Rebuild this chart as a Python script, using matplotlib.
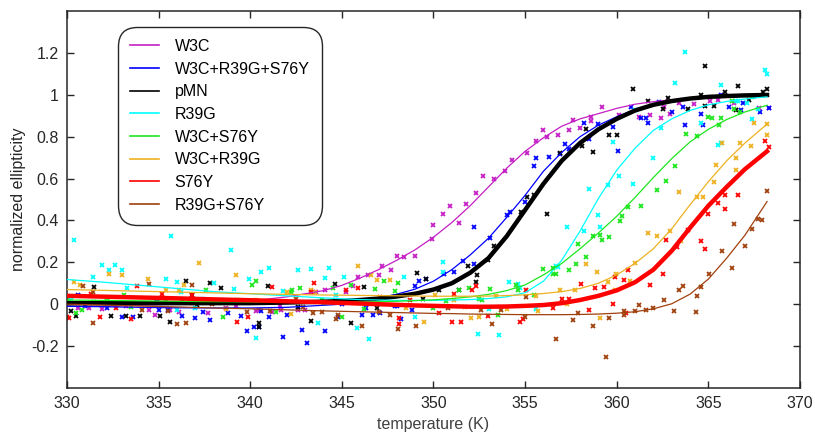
import numpy as np
import matplotlib
matplotlib.use("Agg")
import matplotlib.pyplot as plt

plt.rcParams['font.family'] = ['Liberation Sans', 'DejaVu Sans']

labels = ['W3C', 'W3C+R39G+S76Y', 'pMN', 'R39G', 'W3C+S76Y', 'W3C+R39G', 'S76Y', 'R39G+S76Y']
colors = ['#c41fc4', '#0000ff', '#000000', '#00ffff', '#1ee61e', '#edb120', '#ff0000', '#a0400d']
widths = [0.9, 0.9, 3.2, 0.9, 0.9, 0.9, 3.2, 0.9]

# fitted curves
fit_t = [330, 332, 334, 336, 338, 340, 342, 344, 345, 346, 347, 348, 349, 350, 351, 352,
         353, 354, 355, 356, 357, 358, 359, 360, 361, 362, 363, 364, 365, 366, 367, 368.2]
fit_w3c = [-0.01, -0.01, -0.005, 0.0, 0.005, 0.015, 0.035, 0.065, 0.09, 0.125, 0.165, 0.21, 0.26, 0.32, 0.39, 0.47,
           0.56, 0.65, 0.73, 0.795, 0.85, 0.885, 0.91, 0.935, 0.955, 0.967, 0.976, 0.983, 0.988, 0.992, 0.995, 0.998]
fit_w3c_r39g_s76y = [-0.01, -0.012, -0.015, -0.017, -0.018, -0.018, -0.015, -0.005, 0.0, 0.012, 0.028, 0.048, 0.072, 0.11, 0.165, 0.235,
                     0.315, 0.415, 0.52, 0.635, 0.725, 0.80, 0.855, 0.895, 0.93, 0.952, 0.968, 0.98, 0.987, 0.992, 0.996, 0.999]
fit_pmn = [0.005, 0.005, 0.005, 0.005, 0.005, 0.005, 0.008, 0.012, 0.015, 0.02, 0.027, 0.037, 0.05, 0.07, 0.1, 0.15,
           0.22, 0.325, 0.45, 0.575, 0.685, 0.77, 0.835, 0.885, 0.925, 0.952, 0.97, 0.982, 0.99, 0.994, 0.997, 0.999]
fit_r39g = [0.118, 0.105, 0.09, 0.075, 0.06, 0.05, 0.04, 0.03, 0.026, 0.022, 0.02, 0.018, 0.018, 0.018, 0.02, 0.022,
            0.027, 0.035, 0.055, 0.11, 0.21, 0.35, 0.505, 0.64, 0.745, 0.83, 0.885, 0.925, 0.952, 0.968, 0.98, 0.99]
fit_w3c_s76y = [0.02, 0.018, 0.016, 0.014, 0.012, 0.011, 0.01, 0.01, 0.01, 0.011, 0.012, 0.014, 0.017, 0.021, 0.027, 0.035,
                0.047, 0.065, 0.092, 0.14, 0.195, 0.265, 0.34, 0.42, 0.51, 0.605, 0.695, 0.775, 0.835, 0.882, 0.918, 0.95]
fit_w3c_r39g = [0.07, 0.066, 0.062, 0.058, 0.054, 0.05, 0.047, 0.044, 0.043, 0.042, 0.041, 0.04, 0.039, 0.038, 0.038, 0.038,
                0.039, 0.041, 0.045, 0.051, 0.06, 0.075, 0.1, 0.14, 0.195, 0.265, 0.36, 0.475, 0.585, 0.685, 0.77, 0.86]
fit_s76y = [0.04, 0.036, 0.032, 0.028, 0.023, 0.019, 0.014, 0.009, 0.006, 0.003, 0.0, -0.003, -0.006, -0.008, -0.01, -0.012,
            -0.012, -0.011, -0.008, -0.004, 0.005, 0.02, 0.04, 0.066, 0.105, 0.165, 0.255, 0.365, 0.47, 0.56, 0.645, 0.73]
fit_r39g_s76y = [0.0, -0.004, -0.009, -0.013, -0.018, -0.022, -0.027, -0.032, -0.034, -0.036, -0.038, -0.04, -0.042, -0.044, -0.045, -0.047,
                 -0.048, -0.049, -0.05, -0.05, -0.05, -0.049, -0.047, -0.043, -0.036, -0.022, 0.002, 0.048, 0.12, 0.22, 0.33, 0.49]

# measured points (temperature, ellipticity)
pts_w3c = [(330.6, -0.02), (331.2, -0.017), (331.9, -0.022), (333.2, -0.01), (334.5, -0.03), (334.8, -0.05), (335.6, -0.03),
           (336.1, -0.038), (336.8, 0.005), (337.7, -0.04), (338.7, -0.016), (339.2, -0.01), (340.3, -0.033), (340.5, -0.03),
           (341.2, -0.036), (341.6, -0.008), (341.7, -0.03), (342.6, -0.03), (343.0, -0.03), (343.6, 0.057), (344.1, 0.067),
           (344.6, 0.02), (345.2, 0.06), (345.6, 0.086), (345.9, 0.13), (346.4, 0.14), (347.0, 0.14), (347.2, 0.18),
           (347.7, 0.165), (348.0, 0.23), (348.4, 0.225), (349.0, 0.23), (349.9, 0.31), (350.0, 0.376), (350.5, 0.43),
           (350.9, 0.47), (351.4, 0.39), (351.8, 0.48), (352.3, 0.53), (352.7, 0.61), (353.3, 0.60), (353.9, 0.635),
           (354.3, 0.69), (355.1, 0.72), (355.6, 0.78), (356.0, 0.83), (356.2, 0.80), (356.8, 0.81), (357.4, 0.83),
           (357.6, 0.88), (358.0, 0.84), (358.6, 0.895), (358.6, 0.876), (359.2, 0.94), (360.1, 0.905), (361.2, 0.895),
           (361.8, 0.905), (362.4, 0.89), (362.6, 0.94), (362.9, 0.91), (363.4, 0.963), (364.2, 0.955), (365.1, 0.97),
           (365.5, 0.976), (366.4, 0.963), (367.75, 0.936), (368.3, 0.936)]
pts_w3c_r39g_s76y = [(330.6, 0.043), (331.0, -0.01), (332.2, -0.016), (333.0, -0.063), (333.6, -0.06), (334.9, 0.024),
                     (335.0, -0.029), (335.5, -0.029), (336.3, -0.057), (337.0, -0.068), (337.4, -0.036), (337.8, -0.076),
                     (338.8, -0.044), (339.5, -0.057), (339.8, -0.13), (340.2, -0.108), (340.5, -0.108), (340.6, -0.032),
                     (341.0, -0.063), (341.8, -0.156), (342.0, -0.052), (342.8, -0.124), (343.1, -0.184), (344.1, -0.127),
                     (344.8, -0.063), (345.0, -0.001), (346.1, -0.052), (346.3, -0.016), (346.7, -0.052), (347.1, -0.04),
                     (347.9, -0.01), (348.0, -0.01), (348.2, -0.073), (348.8, -0.03), (349.0, 0.086), (349.2, 0.11),
                     (349.6, 0.12), (350.6, 0.146), (351.1, 0.154), (351.6, 0.206), (352.2, 0.19), (352.2, 0.37),
                     (353.1, 0.318), (354.0, 0.425), (354.2, 0.44), (355.0, 0.487), (355.5, 0.66), (355.6, 0.70),
                     (356.3, 0.705), (356.9, 0.717), (357.2, 0.765), (357.4, 0.74), (358.2, 0.865), (358.5, 0.79),
                     (359.0, 0.86), (359.8, 0.845), (360.05, 0.733), (360.8, 0.943), (361.3, 0.89), (361.6, 0.89),
                     (361.7, 0.863), (362.3, 0.967), (363.0, 0.92), (363.6, 0.94), (363.7, 0.857), (364.6, 0.91),
                     (364.7, 0.857), (365.7, 0.998), (366.1, 0.943), (366.9, 0.963), (366.8, 0.927), (367.5, 0.995),
                     (367.8, 0.916), (368.3, 0.936)]
pts_pmn = [(330.2, -0.032), (330.5, -0.057), (331.5, 0.08), (332.4, -0.057), (333.2, -0.057), (334.0, -0.057),
           (335.1, -0.057), (335.6, -0.084), (336.5, 0.11), (336.8, 0.043), (337.1, -0.005), (337.8, 0.103),
           (338.4, 0.075), (340.5, -0.092), (340.5, -0.11), (340.95, 0.086), (342.6, -0.013), (343.3, -0.081),
           (344.6, 0.098), (345.5, -0.092), (346.2, 0.08), (346.9, -0.018), (349.1, 0.15), (349.4, 0.027),
           (349.6, 0.12), (350.3, 0.067), (351.4, 0.067), (351.9, 0.18), (352.3, 0.106), (352.4, 0.138),
           (353.0, 0.21), (353.3, 0.276), (354.8, 0.44), (355.1, 0.51), (355.5, 0.52), (356.2, 0.43),
           (356.9, 0.72), (358.1, 0.754), (358.3, 0.836), (358.7, 0.725), (359.6, 0.81), (360.0, 0.81),
           (360.9, 1.027), (361.7, 0.971), (362.5, 0.932), (362.8, 0.984), (363.9, 0.932), (364.6, 0.998),
           (364.8, 1.135), (364.8, 0.946), (365.3, 0.948), (365.9, 1.014), (366.5, 0.929), (366.6, 1.043),
           (367.2, 0.976), (368.0, 1.011), (368.2, 1.027)]
pts_r39g = [(330.2, 0.02), (330.4, 0.308), (331.4, 0.13), (331.9, 0.186), (332.3, 0.165), (332.6, 0.186), (333.0, 0.162),
            (333.3, 0.075), (335.4, 0.119), (335.7, 0.324), (336.0, 0.106), (336.0, -0.03), (336.2, 0.059),
            (337.0, -0.02), (337.4, 0.024), (338.0, 0.099), (338.95, 0.26), (339.1, 0.071), (339.4, 0.014),
            (339.95, 0.122), (340.3, -0.163), (340.6, 0.154), (341.0, 0.175), (341.8, 0.062), (342.6, 0.162),
            (343.3, 0.17), (343.7, -0.092), (344.1, 0.127), (344.3, 0.175), (344.7, 0.043), (345.1, 0.13),
            (345.8, -0.116), (346.5, -0.168), (348.4, 0.13), (349.0, -0.06), (350.5, 0.2), (350.5, 0.154),
            (352.45, -0.14), (353.05, -0.025), (353.6, -0.148), (354.1, 0.106), (354.6, 0.095), (354.7, 0.075),
            (355.6, -0.025), (356.7, 0.18), (356.8, 0.178), (357.3, 0.368), (358.2, 0.35), (358.5, 0.55),
            (359.0, 0.427), (359.1, 0.368), (359.5, 0.57), (359.8, 0.773), (360.1, 0.614), (360.9, 0.575),
            (361.0, 0.927), (362.0, 0.70), (362.4, 0.84), (363.2, 1.056), (363.7, 1.206), (364.6, 0.865),
            (365.5, 0.762), (365.7, 0.768), (365.7, 1.048), (366.5, 0.971), (366.6, 0.968), (367.1, 0.959),
            (367.4, 0.884), (367.7, 0.932), (368.1, 1.117), (368.2, 1.10)]
pts_w3c_s76y = [(330.0, 0.027), (330.5, -0.041), (330.8, -0.03), (331.5, 0.011), (332.2, 0.014), (333.1, 0.046),
                (333.5, -0.013), (335.4, 0.019), (336.3, 0.019), (337.6, 0.067), (338.4, 0.019), (338.5, -0.06),
                (339.3, 0.019), (340.1, 0.09), (340.3, 0.11), (341.4, -0.036), (342.2, 0.059), (342.3, 0.067),
                (342.7, 0.075), (343.9, 0.02), (344.0, 0.006), (344.5, 0.075), (345.0, -0.06), (345.5, 0.09),
                (346.2, -0.025), (346.8, 0.071), (347.3, 0.11), (347.9, 0.063), (348.05, 0.101), (350.0, -0.018),
                (350.7, 0.016), (351.4, 0.067), (351.96, 0.078), (352.5, 0.027), (352.65, 0.019), (353.1, 0.071),
                (353.5, -0.052), (354.5, 0.09), (354.6, 0.067), (355.5, 0.043), (356.0, 0.17), (356.5, 0.146),
                (356.5, 0.175), (356.7, 0.143), (357.4, 0.165), (357.8, 0.194), (357.9, 0.286), (358.3, 0.225),
                (358.7, 0.325), (359.1, 0.332), (359.2, 0.308), (359.6, 0.32), (360.2, 0.395), (360.3, 0.419),
                (360.6, 0.463), (361.3, 0.467), (362.2, 0.543), (362.7, 0.587), (363.2, 0.662), (363.8, 0.813),
                (364.4, 0.805), (365.0, 0.892), (365.2, 0.889), (365.6, 0.857), (365.7, 0.887), (366.3, 0.968),
                (366.4, 0.932), (366.7, 0.92), (367.4, 0.99)]
pts_w3c_r39g = [(330.4, 0.106), (330.7, 0.09), (332.3, 0.146), (333.0, 0.14), (334.4, 0.122), (335.4, 0.07),
                (336.1, 0.067), (336.4, 0.09), (337.2, 0.197), (337.7, 0.011), (338.7, -0.025), (339.2, 0.138),
                (340.3, 0.022), (342.0, 0.059), (342.2, -0.048), (343.3, 0.067), (343.55, 0.059), (345.9, 0.18),
                (346.6, 0.138), (346.9, 0.114), (347.6, 0.114), (348.5, -0.02), (349.5, -0.084), (350.1, 0.043),
                (351.1, 0.022), (351.7, -0.013), (352.05, -0.068), (352.5, -0.063), (353.4, 0.038), (354.0, -0.025),
                (355.6, 0.038), (355.7, -0.032), (356.9, 0.067), (357.3, 0.0), (357.7, 0.07), (358.3, 0.19),
                (358.9, 0.154), (359.1, -0.068), (359.5, 0.106), (359.9, 0.07), (359.97, 0.143), (360.7, 0.111),
                (361.0, 0.197), (361.7, 0.34), (362.2, 0.324), (362.9, 0.349), (363.4, 0.535), (363.5, 0.30),
                (364.4, 0.514), (364.7, 0.511), (365.3, 0.582), (365.4, 0.667), (365.75, 0.768), (366.5, 0.70),
                (366.5, 0.641), (366.7, 0.768), (367.3, 0.757), (367.5, 0.863), (368.2, 0.86), (368.2, 0.81)]
pts_s76y = [(330.0, -0.06), (330.1, -0.068), (331.3, 0.051), (331.8, -0.063), (332.7, -0.02), (333.5, -0.073),
            (333.8, 0.086), (335.2, 0.048), (336.8, 0.043), (339.3, -0.087), (339.9, -0.063), (341.2, 0.08),
            (343.3, 0.056), (343.5, 0.10), (345.2, 0.067), (345.9, 0.075), (347.1, 0.032), (348.1, -0.068),
            (348.1, -0.095), (348.7, 0.019), (350.3, -0.041), (351.0, -0.084), (351.1, 0.051), (351.5, -0.084),
            (352.1, 0.067), (352.3, 0.086), (353.0, -0.057), (354.7, -0.084), (354.9, -0.07), (355.05, 0.07),
            (356.5, -0.02), (357.0, 0.027), (357.4, 0.027), (358.05, 0.098), (358.5, -0.029), (358.8, 0.075),
            (359.3, 0.08), (359.8, 0.003), (359.9, 0.13), (360.4, 0.114), (360.5, -0.044), (360.6, 0.165),
            (361.8, 0.09), (362.5, 0.146), (362.7, 0.305), (363.3, 0.273), (363.9, 0.352), (364.6, 0.30),
            (364.8, 0.265), (365.0, 0.432), (365.5, 0.482), (365.9, 0.456), (365.9, 0.522), (366.6, 0.522),
            (368.1, 0.78), (368.3, 0.752)]
pts_r39g_s76y = [(330.85, 0.086), (331.4, -0.089), (331.4, 0.059), (334.1, -0.029), (334.5, 0.098), (335.5, -0.033),
                 (336.0, -0.095), (336.5, -0.092), (336.8, 0.094), (337.9, 0.003), (339.8, -0.036), (341.1, -0.033),
                 (342.5, 0.027), (342.9, -0.013), (343.4, -0.044), (343.9, -0.036), (344.7, -0.073), (344.8, -0.052),
                 (346.1, -0.105), (347.05, -0.036), (347.6, -0.052), (348.05, -0.12), (349.05, -0.103), (350.8, -0.02),
                 (352.6, -0.029), (353.2, -0.095), (353.7, -0.029), (355.0, -0.06), (355.05, 0.032), (356.7, -0.167),
                 (357.6, -0.076), (357.9, -0.041), (358.7, -0.105), (359.4, -0.25), (359.6, -0.068), (360.4, -0.032),
                 (360.4, -0.052), (361.0, -0.033), (361.2, -0.005), (361.6, -0.029), (362.0, -0.016), (362.6, 0.022),
                 (363.1, -0.033), (363.4, 0.067), (363.6, 0.086), (364.3, -0.036), (364.4, 0.04), (364.6, 0.082),
                 (365.06, 0.146), (365.75, 0.254), (366.3, 0.175), (366.4, 0.381), (367.0, 0.278), (367.4, 0.36),
                 (367.7, 0.408), (367.9, 0.40), (368.2, 0.54)]

fits = [fit_w3c, fit_w3c_r39g_s76y, fit_pmn, fit_r39g, fit_w3c_s76y, fit_w3c_r39g, fit_s76y, fit_r39g_s76y]
points = [pts_w3c, pts_w3c_r39g_s76y, pts_pmn, pts_r39g, pts_w3c_s76y, pts_w3c_r39g, pts_s76y, pts_r39g_s76y]

fig = plt.figure(figsize=(8.15, 4.33), dpi=100)
ax = fig.add_axes([0.0822, 0.104, 0.8994, 0.8706])

# raw points first, fits on top
for i in range(len(labels)):
    p = np.array(points[i])
    ax.plot(p[:, 0], p[:, 1], 'x', color=colors[i], ms=3, mew=1.3, zorder=2)

lines = []
for i in range(len(labels)):
    ln, = ax.plot(fit_t, fits[i], '-', color=colors[i], lw=widths[i], label=labels[i], zorder=3)
    lines.append(ln)

ax.set_xlim(330, 370)
ax.set_ylim(-0.4, 1.4)
ax.set_xticks(np.arange(330, 371, 5))
ax.set_yticks([-0.2, 0, 0.2, 0.4, 0.6, 0.8, 1, 1.2])
ax.set_yticklabels(['-0.2', '0', '0.2', '0.4', '0.6', '0.8', '1', '1.2'])
ax.tick_params(direction='in', top=True, right=True, length=5, width=1, labelsize=11.5,
               colors='#262626', pad=6)
for s in ax.spines.values():
    s.set_color('#262626')
    s.set_linewidth(1.1)
ax.set_xlabel('temperature (K)', fontsize=11.5, color='#404040', labelpad=4)
ax.set_ylabel('normalized ellipticity', fontsize=11.5, color='#262626', labelpad=4)

leg = ax.legend(handles=lines, loc='upper left', bbox_to_anchor=(118 / 815, 1 - 27 / 433),
                bbox_transform=fig.transFigure, borderaxespad=0, fontsize=11.5,
                handlelength=1.8, handletextpad=1.0, labelspacing=0.48, borderpad=0.75,
                frameon=True, fancybox=True)
frame = leg.get_frame()
frame.set_boxstyle('round', pad=0.0, rounding_size=1.2)
frame.set_edgecolor('#262626')
frame.set_linewidth(1.0)
frame.set_alpha(1)
for h in leg.legend_handles:
    h.set_linewidth(1.2)

fig.savefig('out.png', dpi=100)
